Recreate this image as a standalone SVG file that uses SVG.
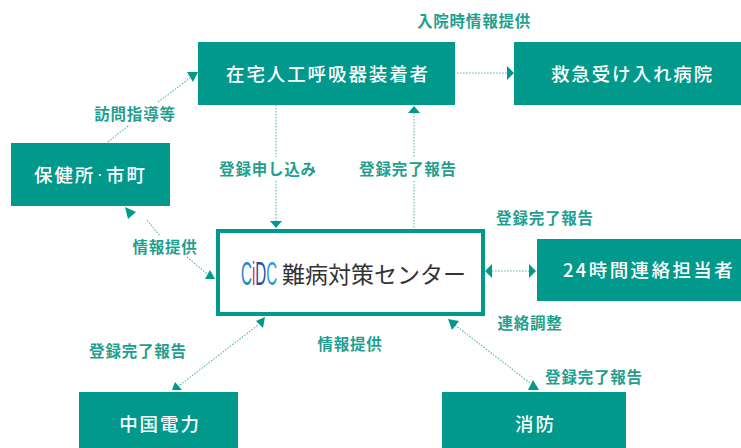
<svg xmlns="http://www.w3.org/2000/svg" width="741" height="448" viewBox="0 0 741 448">
<style>
text{font-family:"Noto Sans CJK JP","Noto Sans",sans-serif}
.box{fill:#00998c}
.n{fill:#fff;font-size:18.5px;font-weight:500;letter-spacing:1.9px;text-anchor:middle}
.l{fill:#1f9f90;font-size:15.5px;font-weight:700;letter-spacing:.8px;text-anchor:middle}
.c{stroke:#5cb8ab;stroke-width:1.1;stroke-dasharray:1.6 1.4;fill:none}
.a{fill:#00998c}
</style>
<rect width="741" height="448" fill="#fff"/>
<g id="connectors">
<path class="c" d="M108 142L128 126M158 102L190 78"/><polygon class="a" points="187,72 198,72 193,82"/>
<path class="c" d="M147 220L160 236M187 257L207 274"/><polygon class="a" points="125,207 136,212 128,219"/><polygon class="a" points="205,279 215,279 210,270"/>
<path class="c" d="M276 105V157M276 181V221"/><polygon class="a" points="270,221 282,221 276,228"/>
<path class="c" d="M414 113V157M414 181V229"/><polygon class="a" points="408,113 420,113 414,106"/>
<path class="c" d="M457 73H507"/><polygon class="a" points="507,66 507,80 514,73"/>
<path class="c" d="M492 271H530"/><polygon class="a" points="485,271 492,264 492,278"/><polygon class="a" points="529,264 529,278 536,271"/>
<path class="c" d="M180 385L258 325"/><polygon class="a" points="256,321 265,317 263,328"/><polygon class="a" points="172,390 175,382 182,390"/>
<path class="c" d="M455 325L530 383"/><polygon class="a" points="448,319 459,321 452,330"/><polygon class="a" points="528,390 533,380 539,390"/>
</g>
<g id="node-patient"><rect class="box" x="198" y="42" width="257" height="63"/><text class="n" x="328" y="81">在宅人工呼吸器装着者</text></g>
<g id="node-hospital"><rect class="box" x="514" y="42" width="227" height="63"/><text class="n" x="632.5" y="81">救急受け入れ病院</text></g>
<g id="node-health"><rect class="box" x="11" y="143" width="159" height="63"/><text class="n" x="34" y="182" style="text-anchor:start">保健所<tspan dy="-4" style="font-size:9px">・</tspan><tspan dy="4">市町</tspan></text></g>
<g id="node-contact"><rect class="box" x="537" y="239" width="204" height="62"/><text class="n" x="649" y="277" style="letter-spacing:2.4px">24時間連絡担当者</text></g>
<g id="node-chugoku"><rect class="box" x="79" y="392" width="159" height="56"/><text class="n" x="160" y="431">中国電力</text></g>
<g id="node-fire"><rect class="box" x="442" y="392" width="184" height="56"/><text class="n" x="535.5" y="431">消防</text></g>
<g id="node-center">
<rect x="218" y="231" width="265" height="83" fill="#fff" stroke="#00998c" stroke-width="4"/>
<text transform="translate(241 285) scale(.46 1)" font-size="33" style="font-family:'Liberation Sans',sans-serif"><tspan x="0" fill="#2a80c8">C</tspan><tspan x="24" fill="#d8344a">i</tspan><tspan x="31" fill="#24509a">D</tspan><tspan x="55" fill="#2a9ad8">C</tspan></text>
<text x="282" y="283" font-size="23" fill="#333" font-weight="400">難病対策センター</text>
</g>
<g id="labels">
<text class="l" x="474" y="27">入院時情報提供</text>
<text class="l" x="135" y="120">訪問指導等</text>
<text class="l" x="268" y="175">登録申し込み</text>
<text class="l" x="408" y="175">登録完了報告</text>
<text class="l" x="545" y="224">登録完了報告</text>
<text class="l" x="165" y="253">情報提供</text>
<text class="l" x="530" y="329">連絡調整</text>
<text class="l" x="350" y="350">情報提供</text>
<text class="l" x="138" y="357">登録完了報告</text>
<text class="l" x="594" y="383">登録完了報告</text>
</g>
</svg>
